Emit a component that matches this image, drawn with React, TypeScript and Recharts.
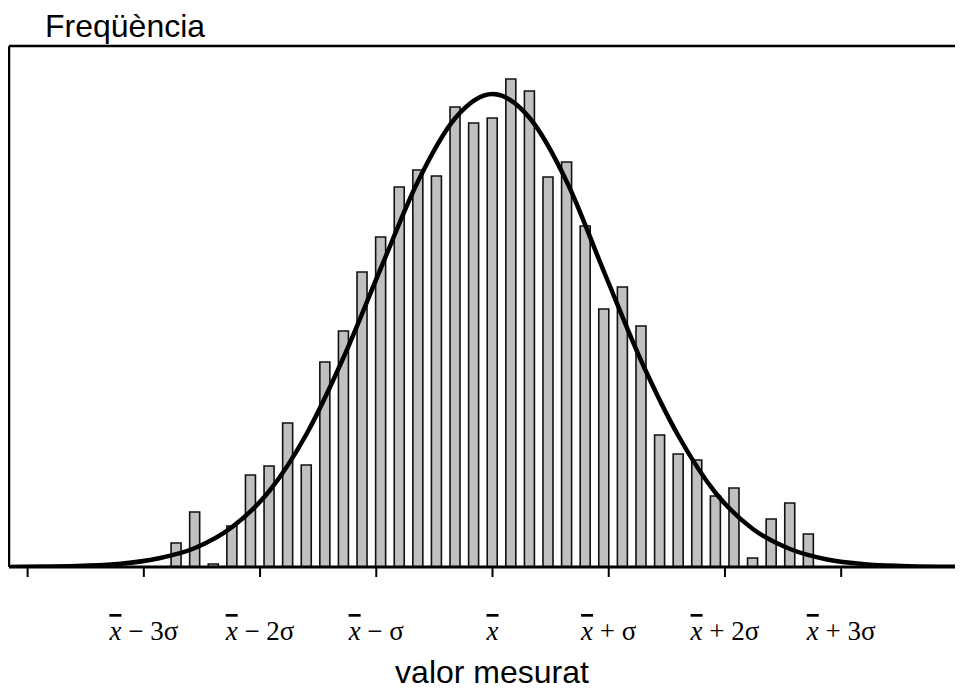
import type { JSX } from "react";
import { Bar, ComposedChart, Line, ReferenceLine, XAxis, YAxis } from "recharts";

// histogram counts, one per bin (bin width = 0.16 sigma), centred on the mean
const frequencies = [
  24, 55, 3, 41, 92, 101, 144, 102, 205, 236, 295, 330, 380, 397, 391, 460, 444,
  449, 488, 476, 390, 405, 341, 258, 280, 241, 132, 113, 107, 71, 79, 9, 48, 64,
  33,
];
const binCenters = frequencies.map((_, i) => i - 17);

const curveX = [
  -26, -24, -22, -20, -18, -16, -14, -12, -10, -8, -6, -4, -2, 0, 2, 4, 6, 8,
  10, 12, 14, 16, 18, 20, 22, 24, 25,
];
const curveY = [
  0.1, 0.4, 1.2, 3.2, 8.5, 19, 40, 76, 133, 210, 299, 386, 449, 473, 449, 385,
  295, 206, 131, 74, 38, 18, 7.5, 2.8, 1, 0.3, 0.2,
];

// one sigma = 6.25 bins
const sigmaTicks = [-25, -18.75, -12.5, -6.25, 0, 6.25, 12.5, 18.75, 25];
const tickLabels = ["", " − 3σ", " − 2σ", " − σ", "", " + σ", " + 2σ", " + 3σ", ""];
const tickHasX = [false, true, true, true, true, true, true, true, false];

const xDomain: [number, number] = [-26, 25.3];
const yDomain: [number, number] = [0, 521];

type Row = { x: number; freq?: number; curve?: number };

const rowMap = new Map<number, Row>();
binCenters.forEach((x, i) => {
  rowMap.set(x, { ...(rowMap.get(x) ?? { x }), freq: frequencies[i] });
});
curveX.forEach((x, i) => {
  rowMap.set(x, { ...(rowMap.get(x) ?? { x }), curve: curveY[i] });
});
const rows = [...rowMap.values()].sort((a, b) => a.x - b.x);

const SigmaTick = (props: any): JSX.Element | null => {
  const { x, y, payload } = props;
  const idx = sigmaTicks.indexOf(payload.value);
  if (idx < 0 || !tickHasX[idx]) return null;
  return (
    <text
      x={x}
      y={y + 61}
      textAnchor="middle"
      fontFamily="'Liberation Serif', 'Times New Roman', serif"
      fontSize={27}
      fill="#000"
    >
      <tspan fontStyle="italic" style={{ textDecoration: "overline" }}>
        x
      </tspan>
      <tspan>{tickLabels[idx]}</tspan>
    </text>
  );
};

export default function App(): JSX.Element {
  return (
    <div style={{ position: "relative", width: 955, height: 683 }}>
      <ComposedChart
        width={955}
        height={683}
        data={rows}
        margin={{ top: 38, right: 0, bottom: 0, left: 1 }}
      >
        <XAxis
          dataKey="x"
          type="number"
          domain={xDomain}
          allowDataOverflow
          ticks={sigmaTicks}
          interval={0}
          tickSize={10}
          height={124}
          axisLine={{ stroke: "#000", strokeWidth: 3 }}
          tickLine={{ stroke: "#000", strokeWidth: 2 }}
          tick={<SigmaTick />}
        />
        <YAxis
          type="number"
          domain={yDomain}
          allowDataOverflow
          width={0}
          hide
        />
        <ReferenceLine y={yDomain[1]} stroke="#000" strokeWidth={2.5} ifOverflow="visible" />
        <ReferenceLine x={xDomain[0]} stroke="#000" strokeWidth={2.5} ifOverflow="visible" />
        <Line
          dataKey="curve"
          type="monotone"
          connectNulls
          stroke="#000"
          strokeWidth={4.5}
          dot={false}
          activeDot={false}
          isAnimationActive={false}
        />
        <Bar
          dataKey="freq"
          barSize={10}
          fill="#c0c0c0"
          stroke="#111"
          strokeWidth={1.6}
          isAnimationActive={false}
        />
      </ComposedChart>
      <svg
        width={955}
        height={683}
        style={{ position: "absolute", left: 0, top: 0, pointerEvents: "none" }}
      >
        <text
          x={37}
          y={29}
          fontFamily="'Liberation Sans', Arial, sans-serif"
          fontSize={32}
          fill="#000"
        >
          Freqüència
        </text>
        <text
          x={484}
          y={675}
          textAnchor="middle"
          fontFamily="'Liberation Sans', Arial, sans-serif"
          fontSize={32}
          fill="#000"
        >
          valor mesurat
        </text>
      </svg>
    </div>
  );
}
